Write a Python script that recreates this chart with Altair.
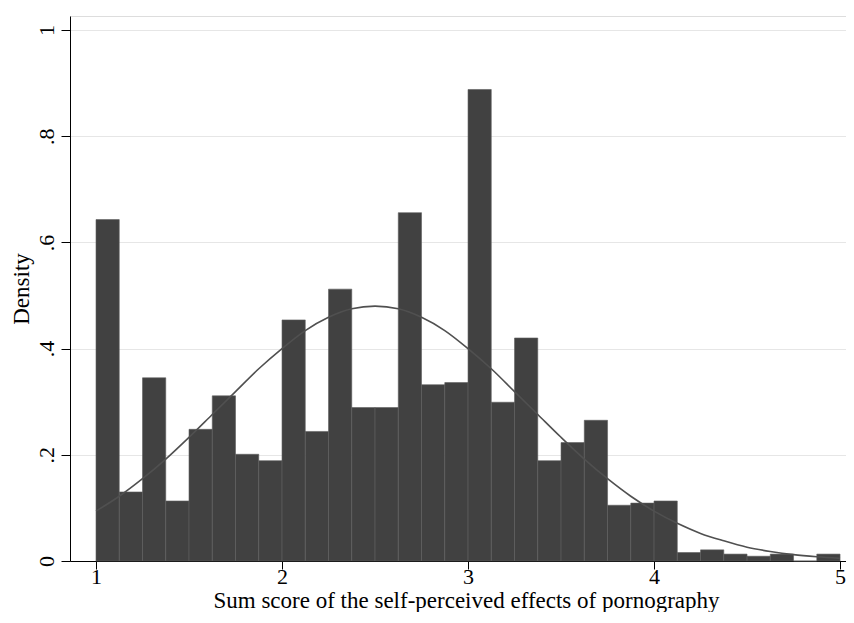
import altair as alt
import pandas as pd

# Histogram bins (start, end) and densities
bin_start = [1.0, 1.125, 1.25, 1.375, 1.5, 1.625, 1.75, 1.875,
             2.0, 2.125, 2.25, 2.375, 2.5, 2.625, 2.75, 2.875,
             3.0, 3.125, 3.25, 3.375, 3.5, 3.625, 3.75, 3.875,
             4.0, 4.125, 4.25, 4.375, 4.5, 4.625, 4.75, 4.875]
bin_end = [1.125, 1.25, 1.375, 1.5, 1.625, 1.75, 1.875, 2.0,
           2.125, 2.25, 2.375, 2.5, 2.625, 2.75, 2.875, 3.0,
           3.125, 3.25, 3.375, 3.5, 3.625, 3.75, 3.875, 4.0,
           4.125, 4.25, 4.375, 4.5, 4.625, 4.75, 4.875, 5.0]
density = [0.643, 0.130, 0.345, 0.113, 0.248, 0.311, 0.201, 0.189,
           0.454, 0.244, 0.512, 0.289, 0.289, 0.656, 0.332, 0.336,
           0.888, 0.299, 0.420, 0.189, 0.223, 0.265, 0.105, 0.109,
           0.113, 0.016, 0.021, 0.013, 0.009, 0.013, 0.0, 0.013]

# Normal density overlay
curve_x = [1.0, 1.125, 1.25, 1.375, 1.5, 1.625, 1.75, 1.875,
           2.0, 2.125, 2.25, 2.375, 2.5, 2.625, 2.75, 2.875,
           3.0, 3.125, 3.25, 3.375, 3.5, 3.625, 3.75, 3.875,
           4.0, 4.125, 4.25, 4.375, 4.5, 4.625, 4.75, 4.875, 5.0]
curve_y = [0.094, 0.122, 0.155, 0.192, 0.233, 0.276, 0.319, 0.362,
           0.400, 0.434, 0.459, 0.475, 0.480, 0.475, 0.459, 0.434,
           0.400, 0.362, 0.319, 0.276, 0.233, 0.192, 0.155, 0.122,
           0.094, 0.071, 0.052, 0.038, 0.026, 0.018, 0.012, 0.008, 0.005]

x_ticks = [1, 2, 3, 4, 5]
y_ticks = [0, 0.2, 0.4, 0.6, 0.8, 1]
y_tick_labels = ["0", ".2", ".4", ".6", ".8", "1"]

bars = pd.DataFrame({"x0": bin_start, "x1": bin_end, "density": density})
curve = pd.DataFrame({"x": curve_x, "y": curve_y})

FONT = "Liberation Serif"
FS = 22
TFS = 23

y_label_expr = " : ".join(
    f"datum.value == {v} ? '{l}'" for v, l in zip(y_ticks, y_tick_labels)
) + " : ''"

xscale = alt.Scale(domain=[0.8602, 5.032], nice=False, zero=False)
yscale = alt.Scale(domain=[0, 1.0264], nice=False)

xaxis = alt.Axis(
    values=x_ticks, format="d",
    title="Sum score of the self-perceived effects of pornography",
    grid=False, tickSize=8, labelPadding=14, labelBaseline="alphabetic",
    labelFont=FONT, labelFontSize=FS, labelColor="black",
    titleFont=FONT, titleFontSize=TFS, titleFontWeight="normal", titleColor="black",
    titleBaseline="alphabetic", titleAlign="center", titleX=396, titleY=46,
    titlePadding=0,
    domainColor="black", tickColor="black", labelFlush=False,
)
yaxis = alt.Axis(
    values=y_ticks, labelExpr=y_label_expr, title="Density",
    grid=True, gridColor="#e6e6e6", gridWidth=1,
    tickSize=9, labelAngle=270, labelAlign="center", labelBaseline="alphabetic",
    labelPadding=8, labelFont=FONT, labelFontSize=FS, labelColor="black",
    titleFont=FONT, titleFontSize=TFS, titleFontWeight="normal", titleColor="black",
    titleAngle=270, titleAlign="center", titleBaseline="alphabetic",
    titleX=-42, titleY=272.5,
    domainColor="black", tickColor="black",
)

hist = alt.Chart(bars).mark_rect(
    color="#414141", stroke="#5e5e5e", strokeWidth=0.6
).encode(
    x=alt.X("x0:Q", scale=xscale, axis=xaxis),
    x2="x1:Q",
    y=alt.Y("density:Q", scale=yscale, axis=yaxis),
    y2=alt.datum(0),
)

line = alt.Chart(curve).mark_line(
    color="#505050", strokeWidth=1.6, interpolate="monotone"
).encode(
    x=alt.X("x:Q", scale=xscale),
    y=alt.Y("y:Q", scale=yscale),
)

chart = alt.layer(hist, line).properties(
    width=776, height=545,
    autosize=alt.AutoSizeParams(type="none"),
    padding={"left": 62, "top": 8, "right": 0, "bottom": 51},
).configure_view(stroke=None).configure(background="white")

chart.save("out.html", embed_options={"renderer": "svg", "actions": False})
